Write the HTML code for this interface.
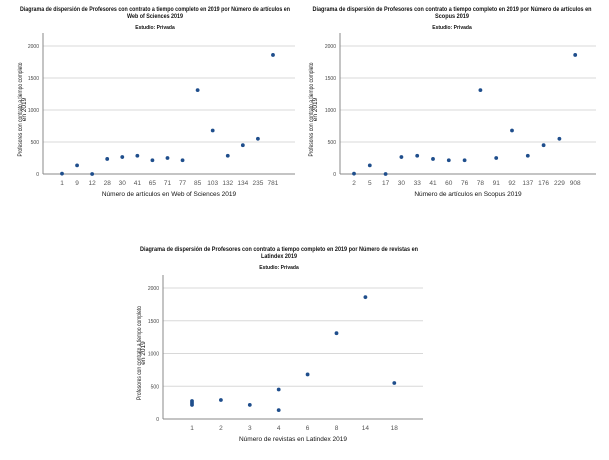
<!DOCTYPE html>
<html><head><meta charset="utf-8"><style>
body{margin:0;background:#fff;}
svg{display:block;font-family:"Liberation Sans",sans-serif;}
.t{font-size:6.5px;font-weight:bold;fill:#111;}
.s{font-size:5px;font-weight:bold;fill:#111;}
.tk{font-size:5px;fill:#444;}
.xt{font-size:6.5px;fill:#555;}
.at{font-size:6.5px;fill:#111;}
</style></head><body>
<svg id="root" width="609" height="460" viewBox="0 0 609 460"></svg>
<script>
const cats1=["1","9","12","28","30","41","65","71","77","85","103","132","134","235","781"];
const vals1=[5,135,0,235,265,285,215,250,215,1310,680,285,450,550,1860];
const cats2=["2","5","17","30","33","41","60","76","78","91","92","137","176","229","908"];
const vals2=[5,135,0,265,285,235,215,215,1310,250,680,285,450,550,1860];
const cats3=["1","2","3","4","6","8","14","18"];
const pts3x=["1","1","1","2","3","4","4","6","8","14","18"];
const pts3y=[275,245,215,290,215,450,135,680,1310,1860,550];
const yTicks=[0,500,1000,1500,2000];
const NS="http://www.w3.org/2000/svg";
const root=document.getElementById('root');
function mk(tag,attrs,parent,txt){const e=document.createElementNS(NS,tag);for(const k in attrs)e.setAttribute(k,attrs[k]);if(txt!==undefined)e.textContent=txt;parent.appendChild(e);return e;}
function chart(o){
  const g=mk('g',{},root);
  
  
  const y=v=>o.y0-(v/2000)*(o.y0-o.y2000);
  const xi=i=>o.xFirst+i*o.step;
  const t1=mk('text',{x:o.cx,y:o.ty,'text-anchor':'middle',class:'t',textLength:o.tw,lengthAdjust:'spacingAndGlyphs'},g,o.title1);
  
  const t2=mk('text',{x:o.cx,y:o.ty+7,'text-anchor':'middle',class:'t',textLength:o.tw2,lengthAdjust:'spacingAndGlyphs'},g,o.title2);
  
  const st=mk('text',{x:o.cx,y:o.ty+18,'text-anchor':'middle',class:'s'},g,'Estudio: Privada');
  
  yTicks.forEach(v=>{
    if(v>0){const gl=mk('line',{x1:o.left,x2:o.right,y1:y(v),y2:y(v),stroke:'#d8d8d8','stroke-width':1},g);
    }
    const tl=mk('text',{x:o.left-4,y:y(v)+2,'text-anchor':'end',class:'tk'},g,String(v));
    
  });
  const ya=mk('line',{x1:o.left,x2:o.left,y1:o.top,y2:o.y0,stroke:'#888','stroke-width':1},g);
  
  const xa=mk('line',{x1:o.left,x2:o.right,y1:o.y0,y2:o.y0,stroke:'#888','stroke-width':1},g);
  
  o.cats.forEach((c,i)=>{
    const tl=mk('text',{x:xi(i),y:o.y0+11,'text-anchor':'middle',class:'xt'},g,c);
    
  });
  o.px.forEach((c,k)=>{
    const i=o.cats.indexOf(c);
    const p=mk('circle',{cx:xi(i),cy:y(o.py[k]),r:1.9,fill:'#1f4e8c'},g);
    
  });
  const xt=mk('text',{x:(o.left+o.right)/2,y:o.y0+22,'text-anchor':'middle',class:'at'},g,o.xtitle);
  
  const yc=(o.top+o.y0)/2+6;
  const ytA=mk('text',{x:o.yx,y:yc,'text-anchor':'middle',class:'at',textLength:94,lengthAdjust:'spacingAndGlyphs',transform:`rotate(-90 ${o.yx} ${yc})`},g,'Profesores con contrato a tiempo completo');
  
  const ytB=mk('text',{x:o.yx+4,y:yc,'text-anchor':'middle',class:'at',transform:`rotate(-90 ${o.yx+4} ${yc})`},g,'en 2019');
  
}
chart({name:'chart-web-of-sciences',cats:cats1,px:cats1,py:vals1,left:43,right:295,top:33,y0:174,y2000:46,xFirst:62,step:15.07,cx:155,ty:11,tw:270,tw2:56,
  title1:'Diagrama de dispersión de Profesores con contrato a tiempo completo en 2019 por Número de artículos en',title2:'Web of Sciences 2019',xtitle:'Número de artículos en Web of Sciences 2019',yx:22});
chart({name:'chart-scopus',cats:cats2,px:cats2,py:vals2,left:340,right:596,top:33,y0:174,y2000:46,xFirst:354,step:15.8,cx:452,ty:11,tw:279,tw2:34,
  title1:'Diagrama de dispersión de Profesores con contrato a tiempo completo en 2019 por Número de artículos en',title2:'Scopus 2019',xtitle:'Número de artículos en Scopus 2019',yx:313});
chart({name:'chart-latindex',cats:cats3,px:pts3x,py:pts3y,left:163,right:423,top:275,y0:419,y2000:288,xFirst:192,step:28.9,cx:279,ty:251,tw:278,tw2:36,
  title1:'Diagrama de dispersión de Profesores con contrato a tiempo completo en 2019 por Número de revistas en',title2:'Latindex 2019',xtitle:'Número de revistas en Latindex 2019',yx:141});
</script>
</body></html>
